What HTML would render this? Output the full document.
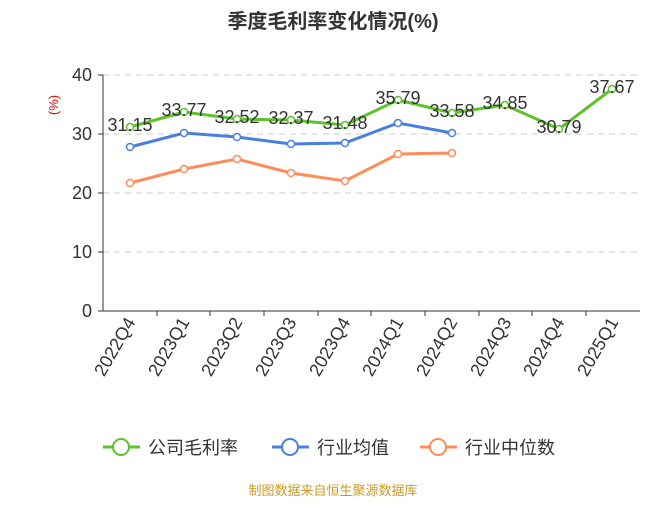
<!DOCTYPE html>
<html><head><meta charset="utf-8"><style>
body{margin:0;background:#fff;}
svg text{font-family:"Liberation Sans","Noto Sans CJK SC",sans-serif;}
</style></head><body>
<svg width="667" height="500" xmlns="http://www.w3.org/2000/svg">
<text x="333" y="28" text-anchor="middle" font-size="20" font-weight="bold" fill="#333">季度毛利率变化情况(%)</text>
<text x="58" y="105" font-size="13" fill="#e00" transform="rotate(-90 58 105)" text-anchor="middle">(%)</text>
<g stroke="#ccc" stroke-dasharray="6,5">
<line x1="103" y1="75" x2="640" y2="75"/><line x1="103" y1="134" x2="640" y2="134"/>
<line x1="103" y1="193" x2="640" y2="193"/><line x1="103" y1="252" x2="640" y2="252"/>
</g>
<line x1="103" y1="311" x2="640" y2="311" stroke="#333"/>
<line x1="103" y1="75" x2="103" y2="311" stroke="#333"/>
<g stroke="#333">
<line x1="98" y1="75" x2="103" y2="75"/><line x1="98" y1="134" x2="103" y2="134"/><line x1="98" y1="193" x2="103" y2="193"/><line x1="98" y1="252" x2="103" y2="252"/><line x1="98" y1="311" x2="103" y2="311"/>
<line x1="157" y1="311" x2="157" y2="316"/><line x1="210" y1="311" x2="210" y2="316"/><line x1="264" y1="311" x2="264" y2="316"/><line x1="318" y1="311" x2="318" y2="316"/><line x1="371" y1="311" x2="371" y2="316"/><line x1="425" y1="311" x2="425" y2="316"/><line x1="479" y1="311" x2="479" y2="316"/><line x1="532" y1="311" x2="532" y2="316"/><line x1="586" y1="311" x2="586" y2="316"/>
</g>
<g font-size="18" fill="#333" text-anchor="end">
<text x="92" y="81">40</text><text x="92" y="140">30</text><text x="92" y="199">20</text><text x="92" y="258">10</text><text x="92" y="317">0</text>
</g>
<g font-size="18" fill="#333" text-anchor="end">
<text transform="translate(136,322) rotate(-60)">2022Q4</text>
<text transform="translate(190,322) rotate(-60)">2023Q1</text>
<text transform="translate(243,322) rotate(-60)">2023Q2</text>
<text transform="translate(297,322) rotate(-60)">2023Q3</text>
<text transform="translate(351,322) rotate(-60)">2023Q4</text>
<text transform="translate(404,322) rotate(-60)">2024Q1</text>
<text transform="translate(458,322) rotate(-60)">2024Q2</text>
<text transform="translate(512,322) rotate(-60)">2024Q3</text>
<text transform="translate(565,322) rotate(-60)">2024Q4</text>
<text transform="translate(619,322) rotate(-60)">2025Q1</text>
</g>
<polyline fill="none" stroke="#ff8c5a" stroke-width="3" points="130,183 184,169 237,159 291,173 345,181 398,154 452,153"/>
<g fill="#fff" stroke="#ff8c5a" stroke-width="1.5"><circle cx="130" cy="183" r="3.5"/><circle cx="184" cy="169" r="3.5"/><circle cx="237" cy="159" r="3.5"/><circle cx="291" cy="173" r="3.5"/><circle cx="345" cy="181" r="3.5"/><circle cx="398" cy="154" r="3.5"/><circle cx="452" cy="153" r="3.5"/></g>
<polyline fill="none" stroke="#4a7fe0" stroke-width="3" points="130,147 184,133 237,137 291,144 345,143 398,123 452,133"/>
<g fill="#fff" stroke="#4a7fe0" stroke-width="1.5"><circle cx="130" cy="147" r="3.5"/><circle cx="184" cy="133" r="3.5"/><circle cx="237" cy="137" r="3.5"/><circle cx="291" cy="144" r="3.5"/><circle cx="345" cy="143" r="3.5"/><circle cx="398" cy="123" r="3.5"/><circle cx="452" cy="133" r="3.5"/></g>
<polyline fill="none" stroke="#5ec22c" stroke-width="3" points="130,127 184,112 237,119 291,120 345,125 398,100 452,113 505,105 559,129 612,89"/>
<g fill="#fff" stroke="#5ec22c" stroke-width="1.5"><circle cx="130" cy="127" r="3.5"/><circle cx="184" cy="112" r="3.5"/><circle cx="237" cy="119" r="3.5"/><circle cx="291" cy="120" r="3.5"/><circle cx="345" cy="125" r="3.5"/><circle cx="398" cy="100" r="3.5"/><circle cx="452" cy="113" r="3.5"/><circle cx="505" cy="105" r="3.5"/><circle cx="559" cy="129" r="3.5"/><circle cx="612" cy="89" r="3.5"/></g>
<g font-size="18" fill="#333" text-anchor="middle">
<text x="130" y="131">31.15</text><text x="184" y="116">33.77</text><text x="237" y="123">32.52</text><text x="291" y="124">32.37</text><text x="345" y="129">31.48</text><text x="398" y="104">35.79</text><text x="452" y="117">33.58</text><text x="505" y="109">34.85</text><text x="559" y="133">30.79</text><text x="612" y="93">37.67</text>
</g>
<g stroke-width="3" fill="#fff" stroke-width="2">
<line x1="103" y1="447" x2="140" y2="447" stroke="#5ec22c" stroke-width="3"/><circle cx="121" cy="447" r="8" stroke="#5ec22c" stroke-width="2"/>
<line x1="272" y1="447" x2="309" y2="447" stroke="#4a7fe0" stroke-width="3"/><circle cx="290" cy="447" r="8" stroke="#4a7fe0" stroke-width="2"/>
<line x1="420" y1="447" x2="457" y2="447" stroke="#ff8c5a" stroke-width="3"/><circle cx="438" cy="447" r="8" stroke="#ff8c5a" stroke-width="2"/>
</g>
<g font-size="18" fill="#333">
<text x="148" y="454">公司毛利率</text><text x="317" y="454">行业均值</text><text x="465" y="454">行业中位数</text>
</g>
<text x="333" y="495" font-size="13" fill="#c89a2a" text-anchor="middle">制图数据来自恒生聚源数据库</text>
</svg>
</body></html>
